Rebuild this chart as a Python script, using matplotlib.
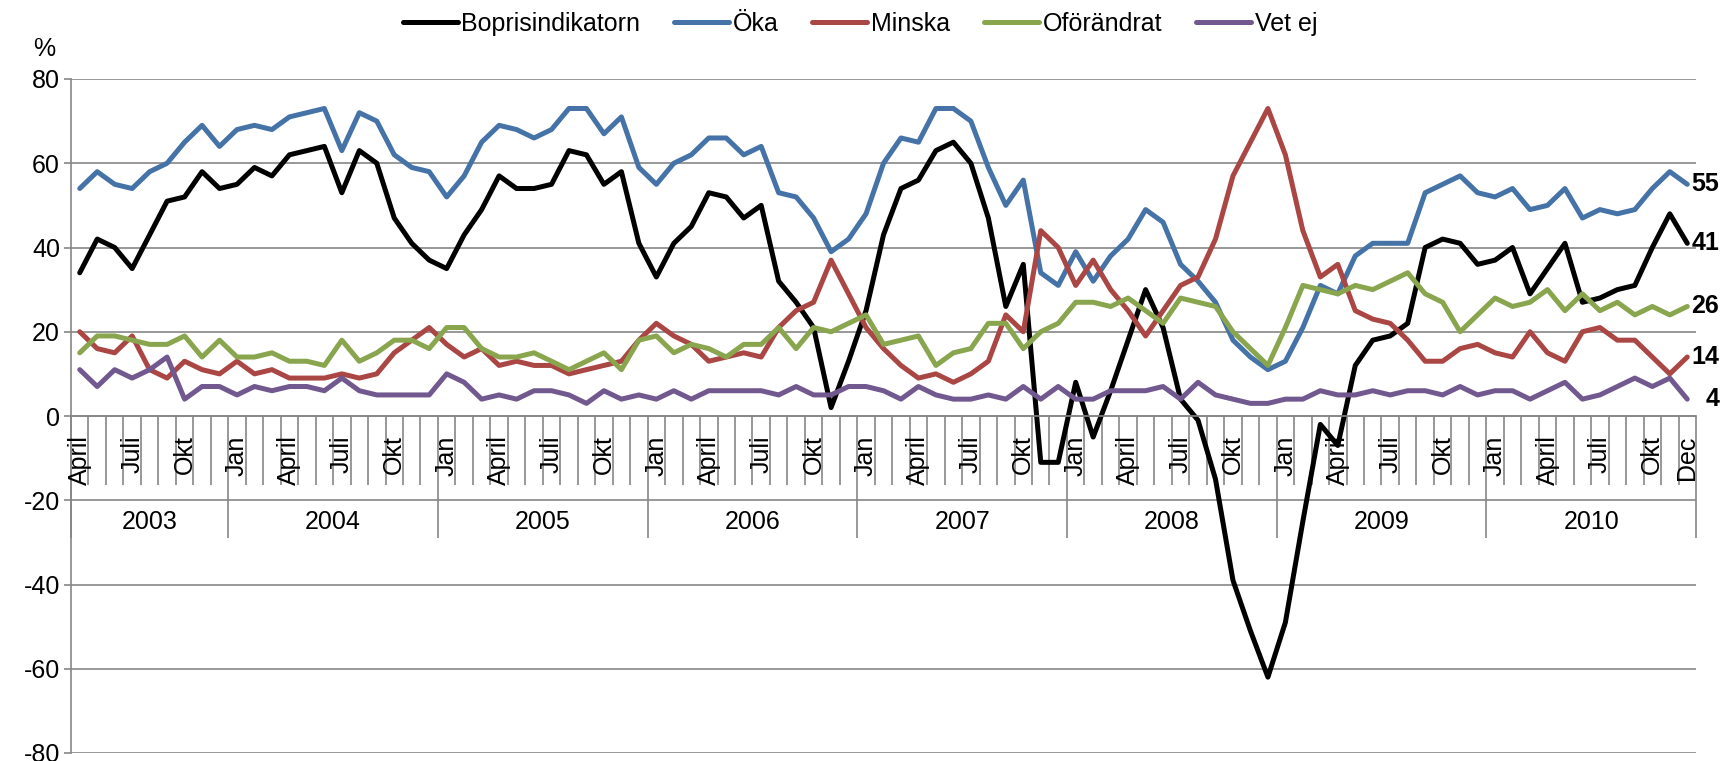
import matplotlib.pyplot as plt
import numpy as np

plt.rcParams['font.family'] = ['Liberation Sans', 'DejaVu Sans']
plt.rcParams['axes.unicode_minus'] = False

# manadsnamn som visas pa axeln
months = ['Jan', 'Feb', 'Mars', 'April', 'Maj', 'Juni', 'Juli', 'Aug', 'Sep', 'Okt', 'Nov', 'Dec']
years = list(range(2003, 2011))
# april 2003 - dec 2010
periods = [(y, m) for y in years for m in range(12) if not (y == 2003 and m < 3)]

bopris = [34, 42, 40, 35, 43, 51, 52, 58, 54, 55, 59, 57, 62, 63, 64, 53,
          63, 60, 47, 41, 37, 35, 43, 49, 57, 54, 54, 55, 63, 62, 55, 58,
          41, 33, 41, 45, 53, 52, 47, 50, 32, 27, 21, 2, 13, 25, 43,
          54, 56, 63, 65, 60, 47, 26, 36, -11, -11, 8, -5, 6, 18, 30,
          21, 4, -1, -15, -39, -51, -62, -49, -25, -2, -7, 12, 18, 19, 22, 40,
          42, 41, 36, 37, 40, 29, 35, 41, 27, 28, 30, 31, 40, 48, 41]
oka = [54, 58, 55, 54, 58, 60, 65, 69, 64, 68, 69, 68, 71, 72, 73, 63,
       72, 70, 62, 59, 58, 52, 57, 65, 69, 68, 66, 68, 73, 73, 67, 71,
       59, 55, 60, 62, 66, 66, 62, 64, 53, 52, 47, 39, 42, 48, 60,
       66, 65, 73, 73, 70, 59, 50, 56, 34, 31, 39, 32, 38, 42, 49,
       46, 36, 32, 27, 18, 14, 11, 13, 21, 31, 29, 38, 41, 41, 41, 53,
       55, 57, 53, 52, 54, 49, 50, 54, 47, 49, 48, 49, 54, 58, 55]
minska = [20, 16, 15, 19, 11, 9, 13, 11, 10, 13, 10, 11, 9, 9, 9, 10,
          9, 10, 15, 18, 21, 17, 14, 16, 12, 13, 12, 12, 10, 11, 12, 13,
          18, 22, 19, 17, 13, 14, 15, 14, 21, 25, 27, 37, 29, 21, 16,
          12, 9, 10, 8, 10, 13, 24, 20, 44, 40, 31, 37, 30, 25, 19,
          25, 31, 33, 42, 57, 65, 73, 62, 44, 33, 36, 25, 23, 22, 18, 13,
          13, 16, 17, 15, 14, 20, 15, 13, 20, 21, 18, 18, 14, 10, 14]
oforandrat = [15, 19, 19, 18, 17, 17, 19, 14, 18, 14, 14, 15, 13, 13, 12, 18,
              13, 15, 18, 18, 16, 21, 21, 16, 14, 14, 15, 13, 11, 13, 15, 11,
              18, 19, 15, 17, 16, 14, 17, 17, 21, 16, 21, 20, 22, 24, 17,
              18, 19, 12, 15, 16, 22, 22, 16, 20, 22, 27, 27, 26, 28, 25,
              22, 28, 27, 26, 20, 16, 12, 21, 31, 30, 29, 31, 30, 32, 34, 29,
              27, 20, 24, 28, 26, 27, 30, 25, 29, 25, 27, 24, 26, 24, 26]
vet_ej = [11, 7, 11, 9, 11, 14, 4, 7, 7, 5, 7, 6, 7, 7, 6, 9,
          6, 5, 5, 5, 5, 10, 8, 4, 5, 4, 6, 6, 5, 3, 6, 4,
          5, 4, 6, 4, 6, 6, 6, 6, 5, 7, 5, 5, 7, 7, 6,
          4, 7, 5, 4, 4, 5, 4, 7, 4, 7, 4, 4, 6, 6, 6,
          7, 4, 8, 5, 4, 3, 3, 4, 4, 6, 5, 5, 6, 5, 6, 6,
          5, 7, 5, 6, 6, 4, 6, 8, 4, 5, 7, 9, 7, 9, 4]

series = [('Boprisindikatorn', bopris, '#000000'),
          ('Öka', oka, '#4572A7'),
          ('Minska', minska, '#AA4643'),
          ('Oförändrat', oforandrat, '#89A54E'),
          ('Vet ej', vet_ej, '#71588F')]

grey = '#868686'
fs = 18

fig = plt.figure(figsize=(17.22, 7.61), dpi=100)
ax = fig.add_axes([71 / 1722, 1 - 753 / 761, (1696 - 71) / 1722, (753 - 79) / 761])

x = np.arange(len(periods))
for name, vals, col in series:
    ax.plot(x, vals, color=col, lw=3.6, label=name, solid_capstyle='round')

ax.set_xlim(-0.5, len(x) - 0.5)
ax.set_ylim(-80, 80)
ax.set_yticks(range(-80, 81, 20))
ax.grid(axis='y', color=grey, lw=1.2)
ax.set_axisbelow(True)
for s in ['top', 'right']:
    ax.spines[s].set_visible(False)
ax.spines['left'].set_color(grey)
ax.spines['left'].set_linewidth(1.2)
ax.spines['bottom'].set_position(('data', 0))
ax.spines['bottom'].set_color(grey)
ax.spines['bottom'].set_linewidth(1.2)
ax.tick_params(axis='y', length=5, width=1.2, color=grey, labelsize=fs, pad=3)

# kategoriaxel: korta streck mellan manader, langa mellan ar
year_start = [i for i, (y, m) in enumerate(periods) if m == 0]
major = [-0.5] + [i - 0.5 for i in year_start] + [len(x) - 0.5]
minor = [b for b in np.arange(len(x) + 1) - 0.5 if b not in major]
ax.set_xticks(major)
ax.set_xticks(minor, minor=True)
ax.tick_params(axis='x', which='major', direction='out', length=88, width=1.2, color=grey, labelbottom=False)
ax.tick_params(axis='x', which='minor', direction='out', length=50, width=1.2, color=grey)

for i, (y, m) in enumerate(periods):
    if m in (0, 3, 6, 9) or i == len(periods) - 1:
        ax.annotate(months[m], xy=(i, 0), xytext=(0, -14), textcoords='offset points',
                    rotation=90, ha='center', va='top', fontsize=fs)

for yr in years:
    idx = [i for i, (y, m) in enumerate(periods) if y == yr]
    ax.annotate(str(yr), xy=((idx[0] + idx[-1]) / 2, 0), xytext=(0, -76), textcoords='offset points',
                ha='center', va='center', fontsize=fs)

# senaste varden till hoger
for name, vals, col in series:
    ax.annotate(str(vals[-1]), xy=(x[-1], vals[-1]), xytext=(32, 0), textcoords='offset pixels',
                ha='right', va='center', fontsize=fs, fontweight='bold')

fig.text(44 / 1722, 1 - 49 / 761, '%', ha='center', va='center', fontsize=fs)
fig.legend(loc='center', bbox_to_anchor=(0.4994, 1 - 24 / 761), ncol=5, frameon=False, fontsize=fs,
           handlelength=2.2, handletextpad=0.15, columnspacing=1.35)

fig.savefig('out.png', dpi=100)
